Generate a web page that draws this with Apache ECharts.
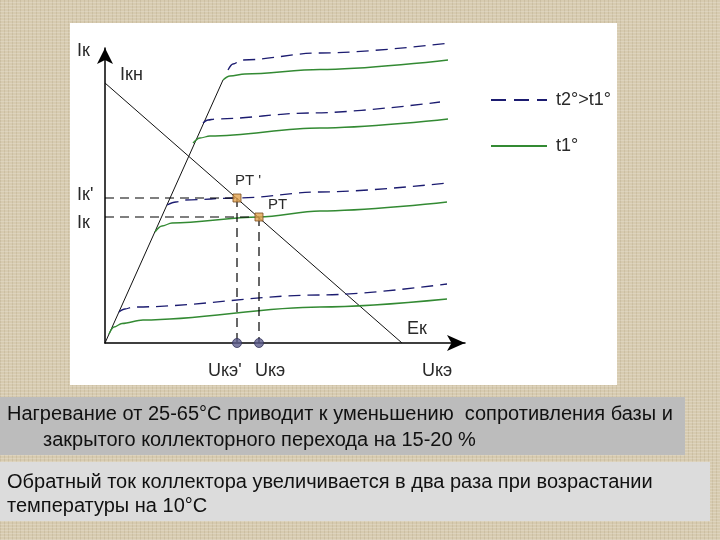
<!DOCTYPE html>
<html>
<head>
<meta charset="utf-8">
<script src="https://cdn.jsdelivr.net/npm/echarts@6/dist/echarts.min.js"></script>
<style>
  html, body { margin: 0; padding: 0; }
  body {
    width: 720px; height: 540px;
    background-color: #d7cbb0;
    background-image:
      repeating-linear-gradient(0deg, rgba(255,255,255,0.18) 0 1px, transparent 1px 3px),
      repeating-linear-gradient(90deg, rgba(120,100,60,0.12) 0 1px, transparent 1px 4px);
  }
  #main { width: 720px; height: 540px; }
</style>
</head>
<body>
<div id="main"></div>
<script>
// x: distance along U axis, y: distance along I axis (same units as the picture)
var steepLine = [[0, 0], [118, 263]];
var loadLine = [[0, 260], [297, 0]];

// t1 (green, solid) family
var t1Top = [[118, 263], [125, 267], [140, 269], [215, 273.5], [343, 283]];
var t1Mid = [[88, 200], [95, 205], [105, 207], [215, 215], [343, 224]];
var t1Low = [[50, 111], [57, 117], [67, 120], [154, 126], [215, 132], [342, 141]];
var t1Bot = [[4, 9], [9, 16], [17, 19.5], [38, 23], [215, 36], [342, 44]];

// t2 (navy, dashed) family
var t2Top = [[123, 273], [128, 279], [137, 283], [215, 290], [345, 300]];
var t2Mid = [[98, 220], [103, 223], [110, 224], [205, 230], [335, 241]];
var t2Low = [[62, 138], [71, 141], [80, 143], [132, 145], [215, 151], [342, 160]];
var t2Bot = [[14, 31], [20, 34], [28, 36], [215, 48], [342, 59]];

// working points PT', PT
var workPoints = [[132, 145], [154, 126]];

var t1Name = 't1°';
var t2Name = 't2°>t1°';

var chart = echarts.init(document.getElementById('main'));

function curve(name, data, color, dash) {
  return {
    name: name,
    type: 'line',
    data: data,
    symbol: 'none',
    smooth: 0.35,
    smoothMonotone: 'x',
    clip: false,
    silent: true,
    itemStyle: { color: color },
    lineStyle: { color: color, width: 1.3, type: dash }
  };
}

var guideStyle = { color: '#000', width: 1.2, type: [9, 6] };

var series = [
  { type: 'line', data: steepLine, symbol: 'none', lineStyle: { color: '#111', width: 1 }, silent: true },
  { type: 'line', data: loadLine, symbol: 'none', lineStyle: { color: '#111', width: 1 }, silent: true }
];
[t1Top, t1Mid, t1Low, t1Bot].forEach(function (d) {
  series.push(curve(t1Name, d, '#338a33', 'solid'));
});
[t2Top, t2Mid, t2Low, t2Bot].forEach(function (d) {
  series.push(curve(t2Name, d, '#1c1c70', [12, 7]));
});
workPoints.forEach(function (p) {
  series.push({ type: 'line', data: [[0, p[1]], p], symbol: 'none', lineStyle: guideStyle, silent: true });
  series.push({ type: 'line', data: [p, [p[0], 0]], symbol: 'none', lineStyle: guideStyle, silent: true });
});
series.push({
  type: 'scatter',
  data: workPoints.map(function (p) { return [p[0], 0]; }),
  symbol: 'circle', symbolSize: 9,
  itemStyle: { color: '#5c5c8c', borderColor: '#33335a', borderWidth: 1 },
  z: 5
});
series.push({
  type: 'scatter',
  data: workPoints,
  symbol: 'rect', symbolSize: 8,
  itemStyle: { color: '#e2a24e', borderColor: '#7a4d22', borderWidth: 1 },
  z: 6
});

var lblFont = 'Liberation Sans, Arial, sans-serif';
function lbl(text, x, y, size) {
  return {
    type: 'text', left: x, top: y - (size || 18) / 2 - 1,
    style: { text: text, fontSize: size || 18, fontFamily: lblFont, fill: '#2a2a2a' }
  };
}
var boxFont = 'Liberation Sans, Arial, sans-serif';
function line(text, x, y) {
  return {
    type: 'text', left: x, top: y - 10,
    style: { text: text, fontSize: 20, fontFamily: boxFont, fill: '#111' }
  };
}

chart.setOption({
  animation: false,
  grid: { left: 105, right: 255, top: 48, bottom: 197 },
  legend: {
    data: [
      { name: t2Name, lineStyle: { type: [15, 8] } },
      { name: t1Name }
    ],
    orient: 'vertical',
    left: 485, top: 86,
    itemWidth: 56, itemHeight: 14, itemGap: 28,
    itemStyle: { opacity: 0 },
    textStyle: { fontSize: 18, fontFamily: lblFont, color: '#2a2a2a', padding: [0, 0, 0, 4] },
    selectedMode: false
  },
  xAxis: {
    type: 'value', min: 0, max: 360,
    axisLine: { lineStyle: { color: '#000', width: 1.5 }, symbol: ['none', 'arrow'], symbolSize: [12, 18] },
    axisTick: { show: false }, axisLabel: { show: false }, splitLine: { show: false }
  },
  yAxis: {
    type: 'value', min: 0, max: 295,
    axisLine: { onZero: false, lineStyle: { color: '#000', width: 1.5 }, symbol: ['none', 'arrow'], symbolSize: [12, 16] },
    axisTick: { show: false }, axisLabel: { show: false }, splitLine: { show: false }
  },
  graphic: [
    { type: 'rect', shape: { x: 70, y: 23, width: 547, height: 362 }, style: { fill: '#ffffff' }, z: -10 },
    { type: 'rect', shape: { x: 0, y: 397, width: 685, height: 58 }, style: { fill: '#bcbcbc' }, z: -10 },
    { type: 'rect', shape: { x: 0, y: 462, width: 710, height: 59 }, style: { fill: '#dcdcdc' }, z: -10 },
    lbl('Iк', 77, 52),
    lbl('Iкн', 120, 76),
    lbl("Iк'", 77, 196),
    lbl('Iк', 77, 224),
    lbl("PT '", 235, 182, 15),
    lbl('PT', 268, 206, 15),
    lbl("Uкэ'", 208, 372),
    lbl('Uкэ', 255, 372),
    lbl('Eк', 407, 330),
    lbl('Uкэ', 422, 372),
    line('Нагревание от 25-65°С приводит к уменьшению  сопротивления базы и', 7, 414),
    line('закрытого коллекторного перехода на 15-20 %', 43, 440),
    line('Обратный ток коллектора увеличивается в два раза при возрастании', 7, 482),
    line('температуры на 10°С', 7, 506)
  ],
  series: series
});
</script>
</body>
</html>
